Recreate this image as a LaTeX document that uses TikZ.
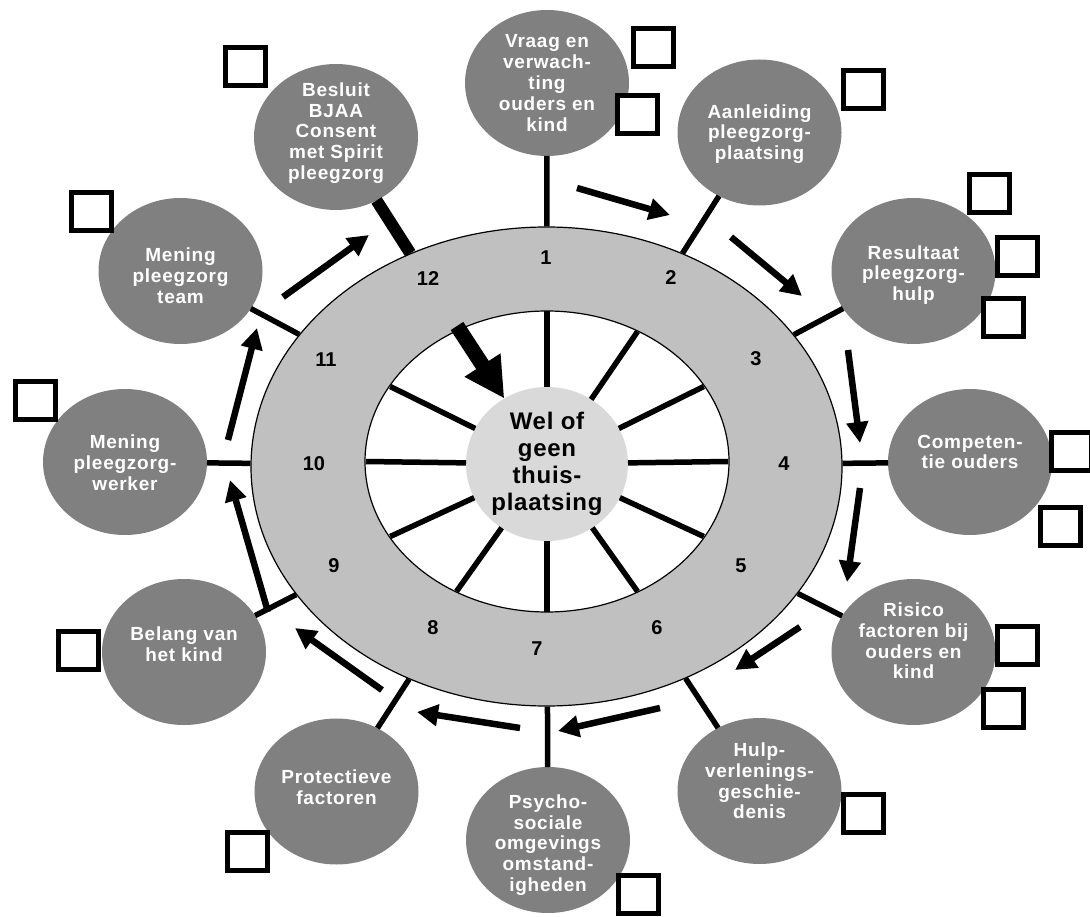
\documentclass[tikz,border=0pt]{standalone}
\usepackage{fontspec}
\setmainfont{Liberation Sans}
\usetikzlibrary{shapes.geometric,arrows.meta,calc}
\definecolor{bubgray}{HTML}{808080}
\definecolor{ringgray}{HTML}{C0C0C0}
\definecolor{hubgray}{HTML}{D9D9D9}
\begin{document}
\begin{tikzpicture}[x=1pt,y=-1pt,
  bub/.style={ellipse,fill=bubgray,minimum width=164pt,minimum height=146pt,inner sep=0pt,outer sep=0pt},
  bubtext/.style={text=white,font=\bfseries\fontsize{19}{20.8}\selectfont\addfontfeature{LetterSpace=4},align=center,inner sep=0pt},
  hubnode/.style={ellipse,fill=hubgray,minimum width=162pt,minimum height=154pt,inner sep=0pt,outer sep=0pt,
    align=center,font=\bfseries\fontsize{24}{27}\selectfont\addfontfeature{LetterSpace=3}},
  num/.style={font=\bfseries\fontsize{20}{20}\selectfont,inner sep=0pt},
  spoke/.style={line width=5.5pt},
  conn/.style={line width=5.5pt},
  bigconn/.style={line width=12pt},
  flow/.style={line width=6.5pt,-{Triangle[length=21pt,width=21pt]}},
  bigarrow/.style={line width=15pt,-{Triangle[length=40pt,width=40pt]}},
  box/.style={draw,line width=5pt,fill=white,minimum width=40pt,minimum height=38pt,inner sep=0pt}
]
\useasboundingbox (0,0) rectangle (1090,917);
\fill[white] (0,0) rectangle (1090,917);

% wheel
\node[ellipse,draw,line width=1.2pt,fill=ringgray,minimum width=591pt,minimum height=479pt,inner sep=0pt] (ring) at (546.5,466.5) {};
\node[ellipse,draw,line width=1.2pt,fill=white,minimum width=364pt,minimum height=301pt,inner sep=0pt] (hole) at (547,461.5) {};
\node[hubnode] (hub) at (547,464) {Wel of\\geen\\thuis-\\plaatsing};
\foreach \a in {90,60,30,0,-30,-60,-90,-120,-150,180,150}{
  \draw[spoke] (hub) -- ($(hole.center)+({181*cos(\a)},{-150*sin(\a)})$);
}

% numbers
\node[num] (k1) at (546,258) {1};
\node[num] (k2) at (671,278) {2};
\node[num] (k3) at (756,359) {3};
\node[num] (k4) at (784,464) {4};
\node[num] (k5) at (741,566) {5};
\node[num] (k6) at (657,628) {6};
\node[num] (k7) at (537,649) {7};
\node[num] (k8) at (433,628) {8};
\node[num] (k9) at (334,566) {9};
\node[num] (k10) at (314,464) {10};
\node[num] (k11) at (326,360) {11};
\node[num] (k12) at (428,279) {12};

% bubbles
\node[bub] (n1) at (547,83) {};
\node[bub] (n2) at (759.5,132.5) {};
\node[bub] (n3) at (913.5,271) {};
\node[bub] (n4) at (970,462) {};
\node[bub] (n5) at (913.5,652) {};
\node[bub] (n6) at (759.5,791) {};
\node[bub] (n7) at (548,840) {};
\node[bub] (n8) at (336.5,791.5) {};
\node[bub] (n9) at (184,652) {};
\node[bub] (n10) at (125,462) {};
\node[bub] (n11) at (180.5,271) {};
\node[bub] (n12) at (336,137) {};

% connectors ring -> bubbles
\foreach \i in {1,...,11}{\draw[conn] (ring) -- (n\i);}
\draw[bigconn] (ring) -- (n12);

% bubble texts
\node[bubtext] (t1) at (547,83) {Vraag en\\verwach-\\ting\\ouders en\\kind};
\node[bubtext] (t2) at (759.5,134) {Aanleiding\\pleegzorg-\\plaatsing};
\node[bubtext] (t3) at (913.5,275) {Resultaat\\pleegzorg-\\hulp};
\node[bubtext] (t4) at (970,452) {Competen-\\tie ouders};
\node[bubtext] (t5) at (913.5,641) {Risico\\factoren bij\\ouders en\\kind};
\node[bubtext] (t6) at (759.5,781) {Hulp-\\verlenings-\\geschie-\\denis};
\node[bubtext] (t7) at (548,845) {Psycho-\\sociale\\omgevings\\omstand-\\igheden};
\node[bubtext] (t8) at (336.5,787.5) {Protectieve\\factoren};
\node[bubtext] (t9) at (184,644) {Belang van\\het kind};
\node[bubtext] (t10) at (125,463) {Mening\\pleegzorg-\\werker};
\node[bubtext] (t11) at (180.5,276) {Mening\\pleegzorg\\team};
\node[bubtext] (t12) at (336,133) {Besluit\\BJAA\\Consent\\met Spirit\\pleegzorg};

% flow arrows
\coordinate (a1s) at (577,188);  \coordinate (a1e) at (670,215);
\coordinate (a2s) at (731,237);  \coordinate (a2e) at (802,296);
\coordinate (a3s) at (848,350);  \coordinate (a3e) at (860,443);
\coordinate (a4s) at (860,488);  \coordinate (a4e) at (847,582);
\coordinate (a5s) at (800,627);  \coordinate (a5e) at (735,670);
\coordinate (a6s) at (660,708);  \coordinate (a6e) at (558,731);
\coordinate (a7s) at (520,728);  \coordinate (a7e) at (417,712);
\coordinate (a8s) at (382,690);  \coordinate (a8e) at (295,628);
\coordinate (a9s) at (268,612);  \coordinate (a9e) at (230,480);
\coordinate (a10s) at (228,440); \coordinate (a10e) at (257,328);
\coordinate (a11s) at (283,297); \coordinate (a11e) at (369,235);
\foreach \i in {1,...,11}{\draw[flow] (a\i s) -- (a\i e);}

% big arrow to the hub
\coordinate (bigs) at (457,326);
\draw[bigarrow] (bigs) -- (hub);

% check boxes
\node[box] (s1a) at (653.5,47.5) {};
\node[box] (s1b) at (637.5,114.5) {};
\node[box] (s2) at (863.5,89.5) {};
\node[box] (s3a) at (989.5,194) {};
\node[box] (s3b) at (1017,256.5) {};
\node[box] (s3c) at (1003.5,318) {};
\node[box] (s4a) at (1071,451) {};
\node[box] (s4b) at (1060,526.5) {};
\node[box] (s5a) at (1017.5,645.5) {};
\node[box] (s5b) at (1003.5,708) {};
\node[box] (s6) at (863.5,813) {};
\node[box] (s7) at (638.5,894) {};
\node[box] (s8) at (247,851.5) {};
\node[box] (s9) at (78.5,650) {};
\node[box] (s10) at (35.5,400.5) {};
\node[box] (s11) at (91,212) {};
\node[box] (s12) at (245.5,67) {};
\end{tikzpicture}
\end{document}
